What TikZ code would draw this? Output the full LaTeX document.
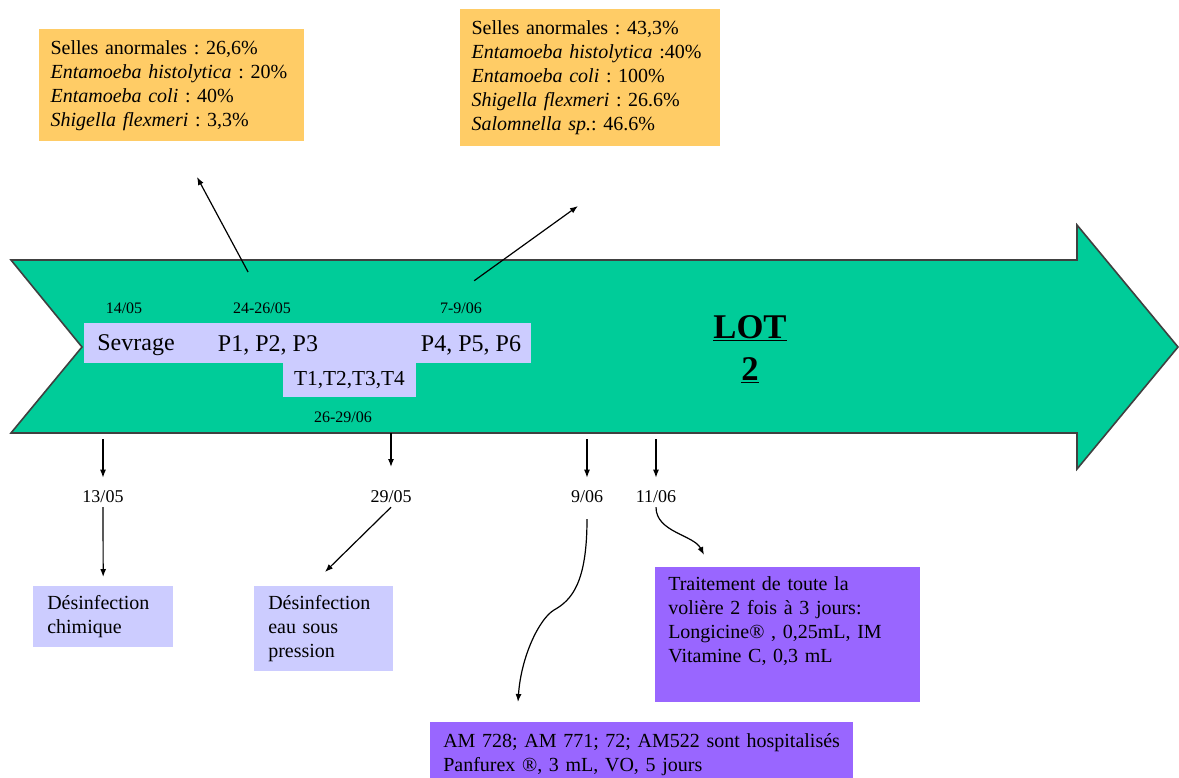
\documentclass[tikz,border=0pt]{standalone}
\usepackage{fontspec}
\setmainfont{Liberation Serif}
\usetikzlibrary{positioning, arrows.meta}
\frenchspacing

\definecolor{lotgreen}{HTML}{00CC99}
\definecolor{statorange}{HTML}{FFCC66}
\definecolor{actlilac}{HTML}{CCCCFF}
\definecolor{treatpurple}{HTML}{9966FF}

\begin{document}
\begin{tikzpicture}[
        x=0.75pt, y=-0.75pt,
        stat/.style={rectangle, fill=statorange, anchor=north west, align=left, inner xsep=8.5pt, font=\fontsize{15}{18}\selectfont},
        act/.style={rectangle, fill=actlilac, anchor=north west, align=left, inner xsep=10.5pt, font=\fontsize{15}{18}\selectfont},
        treat/.style={rectangle, fill=treatpurple, anchor=north west, align=left, inner xsep=9.75pt, font=\fontsize{15}{18}\selectfont},
        phase/.style={font=\fontsize{18}{20}\selectfont, inner sep=0pt},
        date/.style={font=\fontsize{12}{13}\selectfont},
        day/.style={font=\fontsize{13.5}{15}\selectfont},
        arrow/.style={-{Latex[length=6pt,width=4.5pt]}, line width=0.9pt}
    ]

    \useasboundingbox (0,0) rectangle (1179,778);
    \fill[white] (0,0) rectangle (1179,778);
    \clip (0,0) rectangle (1179,778);

    % the big arrow
    \draw[fill=lotgreen, draw=black!75, line width=1.2pt] (11,260) -- (1077,260) -- (1077,225) -- (1178,347) -- (1077,469) -- (1077,433) -- (11,433) -- (82,347) -- cycle;
    \node[font=\bfseries\fontsize{26}{31.5}\selectfont, align=center] (lot) at (750,349) {\underline{LOT}\\\underline{2}};

    % phases on the arrow
    \fill[actlilac] (84,323) rectangle (531,363);
    \node[phase] (sevrage) at (136,345) {Sevrage};
    \node[phase] (pfirst) at (268,345) {P1, P2, P3};
    \node[phase] (psecond) at (471,345) {P4, P5, P6};
    \node[fill=actlilac, minimum width=99.75pt, minimum height=25.5pt, inner sep=0pt, font=\fontsize{16}{18}\selectfont] (tests) at (349.5,380) {T1,T2,T3,T4};

    \node[date] (d1405) at (124,308) {14/05};
    \node[date] (d2426) at (262,308) {24-26/05};
    \node[date] (d0709) at (461,308) {7-9/06};
    \node[date] (d2629) at (343,417) {26-29/06};

    % results of the samples
    \node[stat, text width=181.75pt, minimum height=84pt] (statfirst) at (39,29) {
        Selles anormales : 26,6\%\\
        \textit{Entamoeba histolytica} : 20\%\\
        \textit{Entamoeba coli} : 40\%\\
        \textit{Shigella flexmeri} : 3,3\%};
    \node[stat, text width=178pt, minimum height=102.75pt] (statsecond) at (460,9) {
        Selles anormales : 43,3\%\\
        \textit{Entamoeba histolytica} :40\%\\
        \textit{Entamoeba coli} : 100\%\\
        \textit{Shigella flexmeri} : 26.6\%\\
        \textit{Salomnella sp.}: 46.6\%};

    \coordinate (statfirsttip) at (197,177);
    \coordinate (statsecondtip) at (578,206);
    \draw[arrow, shorten <=22pt] (d2426.north) -- (statfirsttip);
    \draw[arrow, shorten <=22pt] ([xshift=-8pt]d0709.north) -- (statsecondtip);

    % events below the arrow
    \coordinate (t1305) at (103,439);
    \coordinate (t2905) at (391,433);
    \coordinate (t0906) at (587,439);
    \coordinate (t1106) at (656,439);

    \node[day, below=35pt of t1305] (d1305) {13/05};
    \node[day, below=39.5pt of t2905] (d2905) {29/05};
    \node[day, below=35pt of t0906] (d0906) {9/06};
    \node[day, below=35pt of t1106] (d1106) {11/06};

    \draw[arrow, shorten >=6pt] (t1305) -- (d1305);
    \draw[arrow, shorten >=14pt] (t2905) -- (d2905);
    \draw[arrow, shorten >=6pt] (t0906) -- (d0906);
    \draw[arrow, shorten >=6pt] (t1106) -- (d1106);

    \node[act, text width=84pt, minimum height=45.75pt] (dchim) at (33,586) {Désinfection\\chimique};
    \node[act, text width=83.25pt, minimum height=63.75pt] (deau) at (254,586) {Désinfection\\eau sous\\pression};

    \node[treat, text width=179.25pt, minimum height=101.25pt] (volière) at (655,567) {
        Traitement de toute la\\
        volière 2 fois à 3 jours:\\
        Longicine® , 0,25mL, IM\\
        Vitamine C, 0,3 mL\\\strut};
    \node[treat, text width=297.75pt, minimum height=48.75pt] (hosp) at (430,722) {
        AM 728; AM 771; 72; AM522 sont hospitalisés\\
        Panfurex ®, 3 mL, VO, 5 jours};

    \coordinate (eautip) at (325,572);
    \coordinate (kink) at (554,610);
    \coordinate (hosptip) at (518,702);
    \coordinate (volièretip) at (704,555);

    \draw[arrow, shorten >=6.75pt] (d1305) -- (dchim);
    \draw[arrow] (d2905.south) -- (eautip);
    \draw[arrow, shorten <=9pt] (d0906.south) .. controls +(0,75) and +(18,-10) .. (kink) .. controls +(-15,9) and +(3,-45) .. (hosptip);
    \draw[arrow] (d1106.south) .. controls +(0,25) and +(-10,-20) .. (volièretip);

\end{tikzpicture}
\end{document}
